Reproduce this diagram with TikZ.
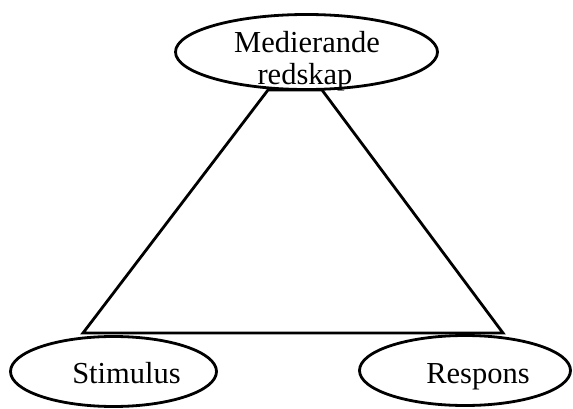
\documentclass[tikz,border=0pt]{standalone}
\usepackage{fontspec}
\setmainfont{Liberation Serif}
\usetikzlibrary{shapes.geometric}
\begin{document}
\begin{tikzpicture}[x=1pt,y=-1pt,
  oval/.style={draw,ellipse,line width=2.8pt,inner sep=0pt},
  lbl/.style={anchor=base,inner sep=0pt,font=\fontsize{30.5pt}{32pt}\selectfont},
  edge/.style={line width=2.8pt,line join=miter}]
\useasboundingbox (0,0) rectangle (573,409);
\coordinate (tl) at (268,90);
\coordinate (tr) at (322,90);
\coordinate (bl) at (83,333);
\coordinate (br) at (503,333);
\draw[edge] (tl) -- (bl) -- (br) -- (tr) -- cycle;
\node[oval,fill=white,minimum width=262pt,minimum height=75pt] (top) at (306.5,52) {};
\node[oval,minimum width=206pt,minimum height=70pt] (stim) at (113.5,371.5) {};
\node[oval,minimum width=211pt,minimum height=70pt] (resp) at (465,370.5) {};
\node[lbl] (t1) at (307,53) {Medierande};
\node[lbl] (t2) at (305,85) {redskap};
\node[lbl] (t3) at (126.5,383) {Stimulus};
\node[lbl] (t4) at (478,383) {Respons};
\end{tikzpicture}
\end{document}
